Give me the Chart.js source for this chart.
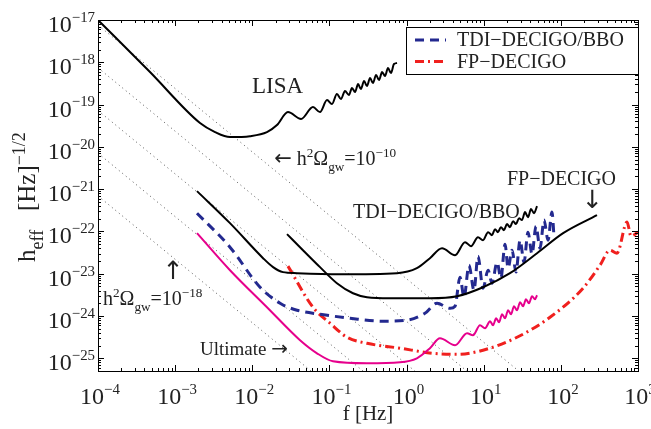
<!DOCTYPE html>
<html><head><meta charset="utf-8">
<script src="https://cdn.jsdelivr.net/npm/chart.js@4.4.1/dist/chart.umd.min.js"></script>
<style>html,body{margin:0;padding:0;background:#fff}</style>
</head><body>
<canvas id="c" width="651" height="429"></canvas>
<script>
// ---------- data ----------
const xTickValues = [1e-4, 1e-3, 1e-2, 1e-1, 1, 10, 100, 1000];
const xTickExponents = ['−4','−3','−2','−1','0','1','2','3'];
const yTickValues = [1e-25,1e-24,1e-23,1e-22,1e-21,1e-20,1e-19,1e-18,1e-17];
const yTickExponents = ['−25','−24','−23','−22','−21','−20','−19','−18','−17'];

const lisaF = [1e-4,4.72e-4,2.10e-3,3.29e-3,5.14e-3,9.33e-3,1.55e-2,2.09e-2,2.90e-2,4.29e-2,6.12e-2,7.55e-2,9.31e-2,0.108,0.125,0.141,0.159,0.179,0.196,0.215,0.235,0.256,0.281,0.307,0.336,0.367,0.402,0.440,0.481,0.526,0.574,0.628,0.687,0.752];
const lisaH = [1e-17,5.87e-19,3.65e-20,2.23e-20,1.70e-20,1.79e-20,2.23e-20,3.27e-20,6.64e-20,4.54e-20,8.73e-20,6.64e-20,1.28e-19,1.03e-19,1.77e-19,1.35e-19,2.09e-19,1.68e-19,2.46e-19,1.98e-19,3.05e-19,2.33e-19,3.60e-19,2.74e-19,4.24e-19,3.23e-19,4.99e-19,3.80e-19,5.87e-19,4.73e-19,7.31e-19,5.57e-19,9.10e-19,9.60e-19];

const tdiBlackF = [1.92e-3,5.14e-3,1.38e-2,1.86e-2,2.50e-2,3.80e-2,0.137,0.752,1.36,2.01,2.88,4.25,5.73,6.84,8.43,9.79,11.4,12.8,14.0,15.3,16.7,18.3,20.0,21.9,24.0,26.2,28.7,31.3,34.3,37.5,41.0,44.9,49.1];
const tdiBlackH = [8.97e-22,1.57e-22,2.33e-23,1.43e-23,1.09e-23,1.03e-23,9.73e-24,1.03e-23,1.35e-23,2.33e-23,4.02e-23,2.74e-23,5.57e-23,4.48e-23,7.31e-23,6.21e-23,9.60e-23,8.15e-23,1.13e-22,9.60e-23,1.26e-22,1.07e-22,1.49e-22,1.26e-22,1.75e-22,1.49e-22,2.06e-22,1.85e-22,2.86e-22,2.17e-22,3.37e-22,2.70e-22,3.96e-22];

const fpBlackF = [2.82e-2,4.54e-2,7.55e-2,0.125,0.202,0.307,0.610,2.01,4.51,9.79,21.9,49.1,107,294];
const fpBlackH = [8.61e-23,3.60e-23,1.43e-23,5.96e-24,3.45e-24,2.78e-24,2.63e-24,2.63e-24,2.93e-24,4.79e-24,1.03e-23,3.05e-23,9.10e-23,2.43e-22];

const tdiDecigoF = [1.92e-3,5.14e-3,1.26e-2,2.29e-2,3.80e-2,7.55e-2,0.185,0.495,1.01,1.73,2.48,3.66,4.25,4.93,5.56,6.44,7.48,8.43,9.79,11.4,12.8,14.9,16.7,18.9,20.7,23.3,26.2,29.6,33.3,37.5,42.3,47.6,53.7,60.5,68.2,76.7,81.5];
const tdiDecigoH = [2.70e-22,4.24e-23,4.79e-24,2.00e-24,1.37e-24,1.10e-24,8.85e-25,7.52e-25,7.93e-25,1.16e-24,2.00e-24,1.52e-24,1.70e-24,8.26e-24,2.78e-24,1.59e-23,4.06e-24,2.59e-23,4.54e-24,1.21e-23,5.96e-24,1.87e-23,7.82e-24,4.99e-23,1.35e-23,3.60e-23,1.09e-23,6.21e-23,1.87e-23,9.60e-23,2.90e-23,1.33e-22,4.02e-23,1.85e-22,6.21e-23,2.86e-22,7.73e-23];

const fpDecigoF = [2.90e-2,6.12e-2,0.102,0.169,0.307,0.822,2.20,4.51,9.79,27.0,72.3,194,322,434,534,721,812,1000];
const fpDecigoH = [1.51e-23,1.61e-24,6.73e-25,3.14e-25,2.26e-25,1.73e-25,1.31e-25,1.24e-25,1.55e-25,3.14e-25,9.33e-25,4.54e-24,1.59e-23,3.60e-23,3.05e-23,1.66e-22,7.73e-23,9.60e-23];

const ultimateF = [1.92e-3,5.14e-3,1.55e-2,4.16e-2,6.90e-2,0.111,0.307,0.822,1.36,2.01,2.71,4.25,6.08,7.26,8.95,10.4,12.1,13.2,14.5,15.8,17.3,18.9,20.7,22.6,24.7,27.0,29.6,32.4,35.3,38.6,42.3,46.2,49.1];
const ultimateH = [9.10e-23,1.21e-23,1.61e-24,2.67e-25,1.31e-25,8.49e-26,7.62e-26,8.04e-26,1.00e-25,1.73e-25,2.97e-25,2.03e-25,3.91e-25,3.50e-25,6.04e-25,5.13e-25,7.52e-25,6.04e-25,8.85e-25,7.11e-25,1.10e-24,8.85e-25,1.37e-24,1.10e-24,1.70e-24,1.37e-24,2.11e-24,1.70e-24,2.49e-24,2.00e-24,2.93e-24,2.49e-24,3.10e-24];

// constant h^2 Omega_gw lines (dotted): start at f = 1e-4, end where they leave the bottom
const omegaExponents = [-10, -12, -14, -16, -18];
const omegaStartF = [1e-4, 1e-4, 1e-4, 1e-4, 1e-4];
const omegaStartH = [7.59e-18, 7.41e-19, 7.24e-20, 7.08e-21, 6.92e-22];
const omegaEndF = [28.4, 6.04, 1.28, 0.272, 0.0577];
const omegaEndH = [5e-26, 5e-26, 5e-26, 5e-26, 5e-26];

const X_MIN = 1e-4, X_MAX = 1e3, Y_MIN = 5e-26, Y_MAX = 1e-17;

// ---------- helpers ----------
const pts = (fx, hy) => fx.map((f, i) => ({x: f, y: hy[i]}));
const SERIF = '"Liberation Serif", "Times New Roman", serif';
const ARROWF = '"DejaVu Sans", sans-serif';
const TXT = '#222';

const datasets = [
  {label:'LISA', data: pts(lisaF, lisaH), borderColor:'#000', borderWidth:2, order:1},
  {label:'TDI-DECIGO/BBO (black)', data: pts(tdiBlackF, tdiBlackH), borderColor:'#000', borderWidth:2, order:1},
  {label:'FP-DECIGO (black)', data: pts(fpBlackF, fpBlackH), borderColor:'#000', borderWidth:2, order:1},
  {label:'TDI−DECIGO/BBO', data: pts(tdiDecigoF, tdiDecigoH), borderColor:'#23298f', borderWidth:3, borderDash:[9,6], order:2, inLegend:true},
  {label:'FP−DECIGO', data: pts(fpDecigoF, fpDecigoH), borderColor:'#f0201e', borderWidth:3, borderDash:[9,4,2,4], order:2, inLegend:true},
  {label:'Ultimate', data: pts(ultimateF, ultimateH), borderColor:'#e6008c', borderWidth:2, order:1},
];
datasets.forEach(d => { d.cubicInterpolationMode = 'monotone'; });
omegaExponents.forEach((e, i) => {
  datasets.push({label:'h2Omega=1e' + e, data:[{x:omegaStartF[i], y:omegaStartH[i]},{x:omegaEndF[i], y:omegaEndH[i]}],
    borderColor:'#555', borderWidth:1, borderDash:[1,3.5], order:10});
});
datasets.forEach(d => { d.showLine = true; d.pointRadius = 0; d.fill = false; d.borderJoinStyle = 'round'; });

// rich text drawing: 'n' normal, 'sup', 'sub', 'a' arrow glyph
function partFont(k, base, supScale) {
  if (k === 'a') return (base * 1.05) + 'px ' + ARROWF;
  return (k === 'n' ? base : base * supScale) + 'px ' + SERIF;
}
function richWidth(ctx, parts, base, supScale = 0.66) {
  let w = 0;
  for (const [t, k] of parts) { ctx.font = partFont(k, base, supScale); w += ctx.measureText(t).width; }
  return w;
}
function rich(ctx, x, y, parts, base, supScale = 0.66) {
  let cx = x;
  for (const [t, k] of parts) {
    const dy = k === 'sup' ? -base * 0.42 : (k === 'sub' ? base * 0.30 : 0);
    ctx.font = partFont(k, base, supScale);
    ctx.fillText(t, cx, y + dy);
    cx += ctx.measureText(t).width;
  }
  return cx - x;
}

// annotations anchored in data coordinates (left, baseline)
const annotations = [
  {f:0.0099, h:1.87e-19, size:23, parts:[['LISA','n']]},
  {f:0.0192, h:3.70e-21, size:20, parts:[['←','a'],[' h','n'],['2','sup'],['Ω','n'],['gw','sub'],['=10','n'],['−10','sup']]},
  {f:0.202, h:2.06e-22, size:20, parts:[['TDI−DECIGO/BBO','n']]},
  {f:20.0, h:1.24e-21, size:20, parts:[['FP−DECIGO','n']]},
  {f:185, h:3.55e-22, size:24, parts:[['↓','a']]},
  {f:6.8e-4, h:7.4e-24, size:24, parts:[['↑','a']]},
  {f:1.16e-4, h:1.79e-24, size:20, parts:[['h','n'],['2','sup'],['Ω','n'],['gw','sub'],['=10','n'],['−18','sup']]},
  {f:2.10e-3, h:1.18e-25, size:19, parts:[['Ultimate ','n'],['→','a']]},
];

const TICK_FONT = 24;

const framePlugin = {
  id: 'frame',
  afterDatasetsDraw(chart) {
    const {ctx, chartArea: a, scales: {x, y}} = chart;
    ctx.save();
    ctx.strokeStyle = '#000';
    ctx.lineWidth = 1;
    ctx.strokeRect(Math.round(a.left) + 0.5, Math.round(a.top) + 0.5, Math.round(a.right - a.left), Math.round(a.bottom - a.top));
    ctx.beginPath();
    for (let d = -4; d <= 3; d++) {
      for (let m = 1; m <= 9; m++) {
        const v = m * Math.pow(10, d);
        if (v < X_MIN * 0.999 || v > X_MAX * 1.001) continue;
        const px = Math.round(x.getPixelForValue(v)) + 0.5;
        const len = m === 1 ? 6 : 3;
        ctx.moveTo(px, a.bottom); ctx.lineTo(px, a.bottom - len);
        ctx.moveTo(px, a.top); ctx.lineTo(px, a.top + len);
      }
    }
    for (let d = -26; d <= -17; d++) {
      for (let m = 1; m <= 9; m++) {
        const v = m * Math.pow(10, d);
        if (v <= Y_MIN * 1.001 || v > Y_MAX * 1.001) continue;
        const py = Math.round(y.getPixelForValue(v)) + 0.5;
        const len = m === 1 ? 6 : 3;
        ctx.moveTo(a.left, py); ctx.lineTo(a.left + len, py);
        ctx.moveTo(a.right, py); ctx.lineTo(a.right - len, py);
      }
    }
    ctx.stroke();

    // tick labels 10^n
    ctx.fillStyle = TXT;
    ctx.textBaseline = 'alphabetic';
    ctx.textAlign = 'left';
    xTickValues.forEach((v, i) => {
      const parts = [['10','n'],[xTickExponents[i],'sup']];
      const w = richWidth(ctx, parts, TICK_FONT, 0.62);
      rich(ctx, x.getPixelForValue(v) - w / 2 + 2, a.bottom + 33, parts, TICK_FONT, 0.62);
    });
    yTickValues.forEach((v, i) => {
      const parts = [['10','n'],[yTickExponents[i],'sup']];
      const w = richWidth(ctx, parts, TICK_FONT, 0.62);
      rich(ctx, a.left - 3 - w, y.getPixelForValue(v) + 12, parts, TICK_FONT, 0.62);
    });

    // annotations
    for (const an of annotations) {
      rich(ctx, x.getPixelForValue(an.f), y.getPixelForValue(an.h), an.parts, an.size);
    }

    // legend (from the datasets flagged inLegend)
    const items = chart.data.datasets.filter(d => d.inLegend);
    const lw = 232, lh = 47;
    const lx = a.right - lw, ly = a.top + 7;
    ctx.fillStyle = '#fff';
    ctx.fillRect(lx, ly, lw, lh);
    ctx.strokeStyle = '#000';
    ctx.lineWidth = 1;
    ctx.strokeRect(Math.round(lx) + 0.5, Math.round(ly) + 0.5, lw, lh);
    items.forEach((d, i) => {
      const cy = ly + 13 + i * 21.5;
      ctx.save();
      ctx.strokeStyle = d.borderColor;
      ctx.lineWidth = d.borderWidth;
      ctx.setLineDash(d.borderDash || []);
      ctx.beginPath(); ctx.moveTo(lx + 9, cy); ctx.lineTo(lx + 40, cy); ctx.stroke();
      ctx.restore();
      ctx.fillStyle = TXT;
      ctx.textBaseline = 'middle';
      ctx.font = '20px ' + SERIF;
      ctx.fillText(d.label, lx + 51, cy + 1);
    });

    // y axis title (rotated, with sub/superscripts)
    ctx.save();
    ctx.translate(35, 262);
    ctx.rotate(-Math.PI / 2);
    ctx.fillStyle = TXT;
    ctx.textBaseline = 'alphabetic';
    rich(ctx, 0, 0, [['h','n'],['eff','sub'],['   [Hz]','n'],['−1/2','sup']], 25, 0.72);
    ctx.restore();
    ctx.restore();
  }
};

new Chart(document.getElementById('c'), {
  type: 'scatter',
  data: {datasets},
  plugins: [framePlugin],
  options: {
    responsive: false,
    animation: false,
    layout: {padding: {top: 20, right: 13, left: 0, bottom: 0}},
    plugins: {legend: {display: false}, tooltip: {enabled: false}},
    scales: {
      x: {
        type: 'logarithmic', min: X_MIN, max: X_MAX,
        afterBuildTicks: s => { s.ticks = xTickValues.map(v => ({value: v})); },
        afterFit: s => { s.height = 58; },
        grid: {display: false, drawTicks: false},
        border: {display: false},
        ticks: {display: false},
        title: {display: true, text: 'f [Hz]', color: TXT, font: {family: SERIF, size: 21}, padding: {top: 0, bottom: 2}}
      },
      y: {
        type: 'logarithmic', min: Y_MIN, max: Y_MAX,
        afterBuildTicks: s => { s.ticks = yTickValues.map(v => ({value: v})); },
        afterFit: s => { s.width = 98; },
        grid: {display: false, drawTicks: false},
        border: {display: false},
        ticks: {display: false}
      }
    }
  }
});
</script>
</body></html>
